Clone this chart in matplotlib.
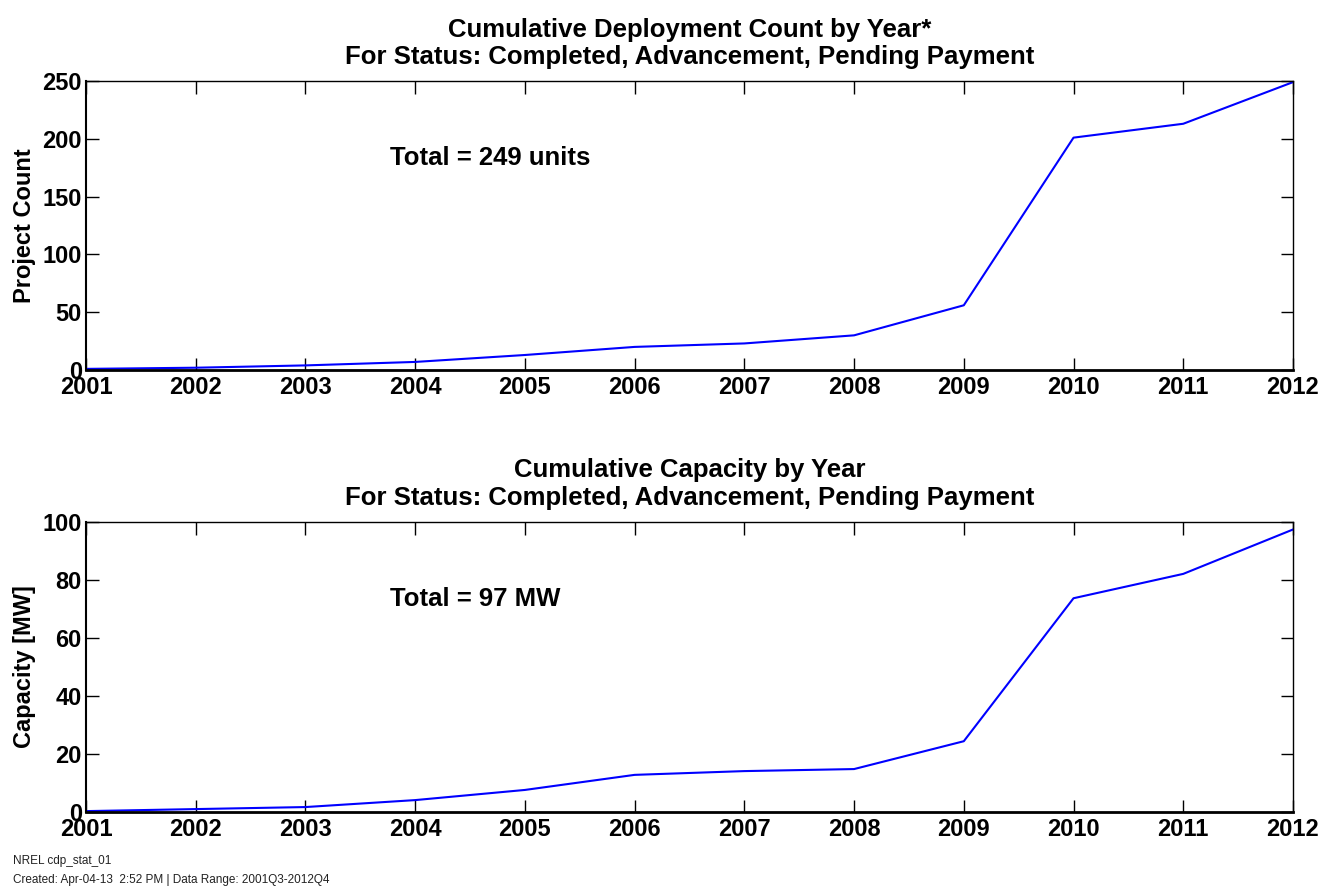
import matplotlib
matplotlib.use('Agg')
import matplotlib.pyplot as plt

plt.rcParams['font.family'] = ['Liberation Sans', 'DejaVu Sans']
plt.rcParams['font.weight'] = 'bold'

# Data
years = [2001, 2002, 2003, 2004, 2005, 2006, 2007, 2008, 2009, 2010, 2011, 2012]
project_count = [1, 2, 4, 7, 13, 20, 23, 30, 56, 201, 213, 249]
capacity_mw = [0.3, 1.0, 1.7, 4.1, 7.6, 12.8, 14.1, 14.8, 24.4, 73.7, 82.1, 97.4]

title_count = 'Cumulative Deployment Count by Year*\nFor Status: Completed, Advancement, Pending Payment'
title_cap = 'Cumulative Capacity by Year\nFor Status: Completed, Advancement, Pending Payment'
footer1 = 'NREL cdp_stat_01'
footer2 = 'Created: Apr-04-13  2:52 PM | Data Range: 2001Q3-2012Q4'

fig = plt.figure(figsize=(13.23, 8.88), dpi=100)
ax1 = fig.add_axes([0.065, 0.5833, 0.9123, 0.3255])
ax2 = fig.add_axes([0.065, 0.0856, 0.9123, 0.3266])

FS = 17
FS_T = 18.5

def style(ax, ymax, ystep, ylabel, title, total):
    ax.set_xlim(years[0], years[-1])
    ax.set_ylim(0, ymax)
    ax.set_xticks(years)
    ax.set_xticklabels([str(y) for y in years], fontsize=FS, fontweight='bold')
    ticks = list(range(0, ymax + 1, ystep))
    ax.set_yticks(ticks)
    ax.set_yticklabels([str(v) for v in ticks], fontsize=FS, fontweight='bold')
    ax.tick_params(direction='in', length=9, width=1, top=True, right=True)
    ax.tick_params(axis='x', pad=4)
    ax.tick_params(axis='y', pad=3)
    for s in ax.spines.values():
        s.set_linewidth(1.0)
    ax.spines['bottom'].set_linewidth(2.0)
    ax.spines['left'].set_linewidth(1.5)
    ax.set_ylabel(ylabel, fontsize=FS, fontweight='bold')
    ax.yaxis.set_label_coords(-0.0414, 0.5)
    ax.set_title(title, fontsize=FS_T, fontweight='bold', linespacing=1.2, pad=12)
    ax.text(2003.77, ymax * 0.735, total, fontsize=FS_T, fontweight='bold', va='center')

ax1.plot(years, project_count, color='#0000ff', lw=1.5)
style(ax1, 250, 50, 'Project Count', title_count, 'Total = 249 units')

ax2.plot(years, capacity_mw, color='#0000ff', lw=1.5)
style(ax2, 100, 20, 'Capacity [MW]', title_cap, 'Total = 97 MW')

fig.text(0.0095, 1 - 861 / 888, footer1, fontsize=8.5, fontweight='normal', color='#222222', va='center')
fig.text(0.0095, 1 - 880 / 888, footer2, fontsize=8.5, fontweight='normal', color='#222222', va='center')

fig.savefig('out.png', dpi=100)
